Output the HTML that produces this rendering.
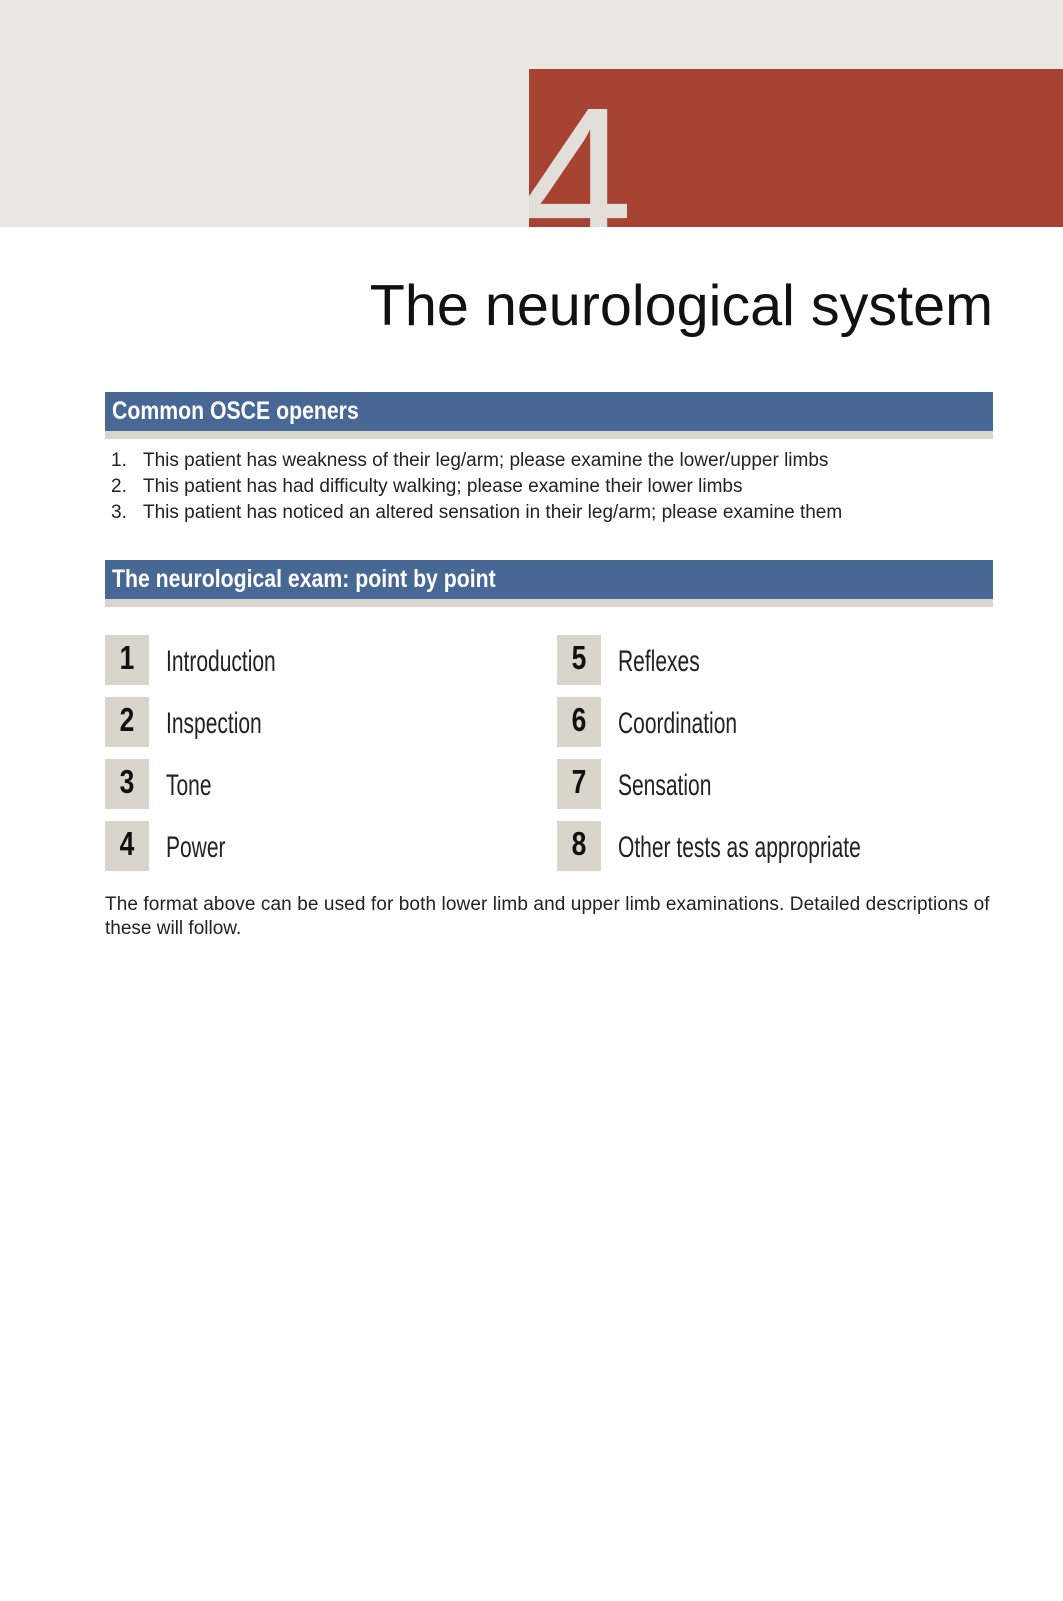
<!DOCTYPE html>
<html><head><meta charset="utf-8"><style>
*{margin:0;padding:0}
body{width:1063px;height:1601px;position:relative;background:#fff;font-family:"Liberation Sans",sans-serif;overflow:hidden}
.a{position:absolute;white-space:nowrap}
.hdr{position:absolute;left:105px;width:888px;height:39px;background:#476795;border-bottom:8px solid #dad6cd}
.hdr span{position:absolute;left:7px;top:5px;color:#fff;font-weight:bold;font-size:25px;transform:scaleX(0.85);transform-origin:left top;white-space:nowrap}
.li{font-size:19px;color:#222}
.box{position:absolute;width:44px;height:50px;background:#d9d5cb}
.box b{position:absolute;left:0;width:44px;top:4px;text-align:center;font-size:33px;transform:scaleX(0.8);color:#111}
.it{position:absolute;font-size:30px;color:#222;transform:scaleX(0.7);transform-origin:left top;white-space:nowrap;font-weight:300}
</style></head><body>
<div class="a" style="left:0;top:0;width:1063px;height:227px;background:#ebe8e3"></div>
<div class="a" style="left:529px;top:69px;width:534px;height:158px;background:#a64333;overflow:hidden">
<div class="a" style="left:-10px;top:8px;font-size:205px;line-height:1;color:#e2dfdb;font-weight:300">4</div></div>
<div class="a" style="right:70px;top:273px;font-size:57.5px;color:#111">The neurological system</div>
<div class="hdr" style="top:392px"><span>Common OSCE openers</span></div>
<div class="a li" style="left:111px;top:450px">1.</div><div class="a li" style="left:143px;top:450px">This patient has weakness of their leg/arm; please examine the lower/upper limbs</div>
<div class="a li" style="left:111px;top:476px">2.</div><div class="a li" style="left:143px;top:476px">This patient has had difficulty walking; please examine their lower limbs</div>
<div class="a li" style="left:111px;top:502px">3.</div><div class="a li" style="left:143px;top:502px">This patient has noticed an altered sensation in their leg/arm; please examine them</div>
<div class="hdr" style="top:560px"><span>The neurological exam: point by point</span></div>

<div class="box" style="left:105px;top:635px"><b>1</b></div><div class="it" style="left:166px;top:645px">Introduction</div>
<div class="box" style="left:105px;top:697px"><b>2</b></div><div class="it" style="left:166px;top:707px">Inspection</div>
<div class="box" style="left:105px;top:759px"><b>3</b></div><div class="it" style="left:166px;top:769px">Tone</div>
<div class="box" style="left:105px;top:821px"><b>4</b></div><div class="it" style="left:166px;top:831px">Power</div>
<div class="box" style="left:557px;top:635px"><b>5</b></div><div class="it" style="left:618px;top:645px">Reflexes</div>
<div class="box" style="left:557px;top:697px"><b>6</b></div><div class="it" style="left:618px;top:707px">Coordination</div>
<div class="box" style="left:557px;top:759px"><b>7</b></div><div class="it" style="left:618px;top:769px">Sensation</div>
<div class="box" style="left:557px;top:821px"><b>8</b></div><div class="it" style="left:618px;top:831px">Other tests as appropriate</div>

<div class="a li" style="left:105px;top:894px;letter-spacing:0.1px">The format above can be used for both lower limb and upper limb examinations. Detailed descriptions of</div>
<div class="a li" style="left:105px;top:918px">these will follow.</div>
</body></html>
